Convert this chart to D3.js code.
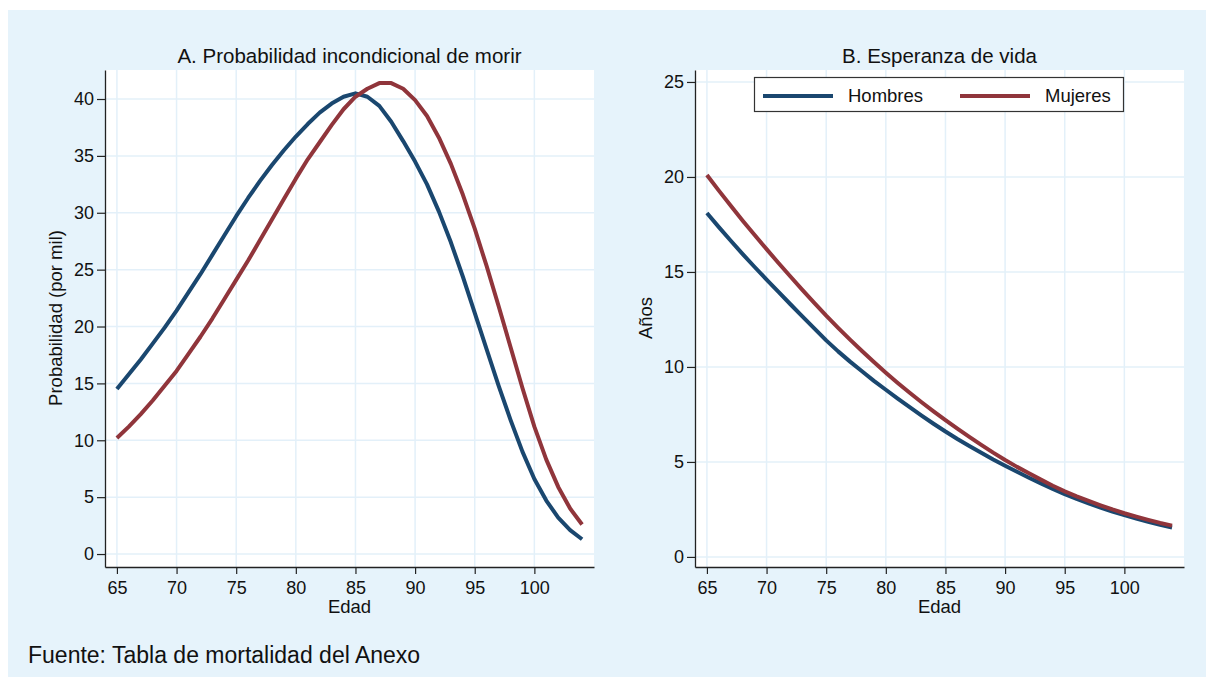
<!DOCTYPE html>
<html>
<head>
<meta charset="utf-8">
<script src="https://cdn.jsdelivr.net/npm/d3@7"></script>
<style>
  body { margin: 0; background: #ffffff; }
  svg text { font-family: "Liberation Sans", Arial, Helvetica, sans-serif; fill: #111; }
</style>
</head>
<body>
<div id="content"></div>
<script>
// ******* DATA *******
const ages = d3.range(65, 105); // 65..104

// A. probabilidad incondicional de morir (por mil)
const probHombres = [14.5, 15.8, 17.1, 18.5, 19.9, 21.4, 23.0, 24.6, 26.3, 28.0,
    29.7, 31.3, 32.8, 34.2, 35.5, 36.7, 37.8, 38.8, 39.6, 40.2,
    40.5, 40.2, 39.4, 38.0, 36.3, 34.5, 32.5, 30.1, 27.4, 24.4,
    21.2, 18.0, 14.8, 11.8, 9.0, 6.6, 4.7, 3.2, 2.1, 1.3];
const probMujeres = [10.2, 11.2, 12.3, 13.5, 14.8, 16.1, 17.6, 19.1, 20.7, 22.4,
    24.1, 25.8, 27.6, 29.4, 31.2, 33.0, 34.7, 36.2, 37.7, 39.1,
    40.2, 40.9, 41.4, 41.4, 40.9, 39.9, 38.5, 36.6, 34.3, 31.6,
    28.6, 25.3, 21.8, 18.2, 14.6, 11.2, 8.3, 5.9, 4.0, 2.6];

// B. esperanza de vida (años)
const espHombres = [18.10, 17.36, 16.64, 15.94, 15.26, 14.60, 13.95, 13.30, 12.66, 12.03,
    11.40, 10.82, 10.28, 9.77, 9.27, 8.80, 8.33, 7.88, 7.44, 7.01,
    6.60, 6.21, 5.84, 5.48, 5.13, 4.80, 4.48, 4.17, 3.87, 3.58,
    3.30, 3.05, 2.82, 2.60, 2.39, 2.20, 2.02, 1.85, 1.69, 1.55];
const espMujeres = [20.10, 19.28, 18.48, 17.70, 16.94, 16.20, 15.47, 14.76, 14.06, 13.37,
    12.70, 12.06, 11.44, 10.84, 10.26, 9.70, 9.16, 8.64, 8.14, 7.66,
    7.20, 6.75, 6.32, 5.90, 5.49, 5.10, 4.74, 4.40, 4.07, 3.75,
    3.45, 3.19, 2.95, 2.72, 2.50, 2.30, 2.12, 1.95, 1.79, 1.65];

const xTicks = [65, 70, 75, 80, 85, 90, 95, 100];
const yTicksA = [0, 5, 10, 15, 20, 25, 30, 35, 40];
const yTicksB = [0, 5, 10, 15, 20, 25];
const seriesNames = ["Hombres", "Mujeres"];
const colors = ["#1a476f", "#90353b"];

// ******* LAYOUT *******
const W = 1206, H = 679;
const svg = d3.select("#content").append("svg")
    .attr("width", W)
    .attr("height", H);

// light blue graph background
svg.append("rect")
    .attr("x", 8).attr("y", 10)
    .attr("width", W - 8).attr("height", 667)
    .attr("fill", "#e6f3fb");

function drawPanel(opts) {
    const g = svg.append("g");
    const x = d3.scaleLinear().domain([64, 105]).range([opts.left, opts.right]);
    const y = d3.scaleLinear().domain(opts.yDomain).range([opts.bottom, opts.top]);

    // plot region
    g.append("rect")
        .attr("x", opts.left).attr("y", opts.top)
        .attr("width", opts.right - opts.left)
        .attr("height", opts.bottom - opts.top)
        .attr("fill", "#ffffff");

    // grid
    g.append("g").selectAll("line").data(xTicks).join("line")
        .attr("x1", d => x(d)).attr("x2", d => x(d))
        .attr("y1", opts.top).attr("y2", opts.bottom)
        .attr("stroke", "#e3f0f9").attr("stroke-width", 1.5);
    g.append("g").selectAll("line").data(opts.yTicks).join("line")
        .attr("x1", opts.left).attr("x2", opts.right)
        .attr("y1", d => y(d)).attr("y2", d => y(d))
        .attr("stroke", "#e3f0f9").attr("stroke-width", 1.5);

    // lines
    const line = d3.line().x((d, i) => x(ages[i])).y(d => y(d));
    opts.series.forEach((s, k) => {
        g.append("path")
            .datum(s)
            .attr("d", line)
            .attr("fill", "none")
            .attr("stroke", colors[k])
            .attr("stroke-width", 4)
            .attr("stroke-linejoin", "round");
    });

    // axes
    const xAxis = g.append("g")
        .attr("transform", `translate(0,${opts.bottom})`)
        .call(d3.axisBottom(x).tickValues(xTicks).tickSize(7).tickSizeOuter(0).tickPadding(7));
    const yAxis = g.append("g")
        .attr("transform", `translate(${opts.left},0)`)
        .call(d3.axisLeft(y).tickValues(opts.yTicks).tickSize(8).tickSizeOuter(0).tickPadding(3));
    [xAxis, yAxis].forEach(a => {
        a.selectAll("path").attr("stroke", "#222").attr("stroke-width", 1.3);
        a.selectAll("line").attr("stroke", "#222").attr("stroke-width", 1.2);
        a.selectAll("text").style("font-size", "18px").attr("fill", "#111")
            .style("font-family", "'Liberation Sans', Arial, sans-serif");
    });

    // titles
    const cx = (opts.left + opts.right) / 2;
    g.append("text")
        .attr("x", cx).attr("y", 63)
        .attr("text-anchor", "middle")
        .style("font-size", "20.5px")
        .text(opts.title);
    g.append("text")
        .attr("x", cx).attr("y", 613)
        .attr("text-anchor", "middle")
        .style("font-size", "18.5px")
        .text("Edad");
    g.append("text")
        .attr("transform", `translate(${opts.ylabelX},318) rotate(-90)`)
        .attr("text-anchor", "middle")
        .style("font-size", "18.5px")
        .text(opts.ylabel);
    return { x, y, g };
}

drawPanel({
    left: 105, right: 594, top: 70, bottom: 567,
    yDomain: [-1.14, 42.55], yTicks: yTicksA,
    series: [probHombres, probMujeres],
    title: "A. Probabilidad incondicional de morir",
    ylabel: "Probabilidad (por mil)", ylabelX: 62
});

const panelB = drawPanel({
    left: 695, right: 1184, top: 70, bottom: 567,
    yDomain: [-0.53, 25.63], yTicks: yTicksB,
    series: [espHombres, espMujeres],
    title: "B. Esperanza de vida",
    ylabel: "Años", ylabelX: 652
});

// legend
const legend = panelB.g.append("g");
legend.append("rect")
    .attr("x", 754.5).attr("y", 77.5)
    .attr("width", 369).attr("height", 34)
    .attr("fill", "#ffffff")
    .attr("stroke", "#333").attr("stroke-width", 1.2);
const legendX = [763, 960];
seriesNames.forEach((name, k) => {
    legend.append("line")
        .attr("x1", legendX[k]).attr("x2", legendX[k] + 70)
        .attr("y1", 96).attr("y2", 96)
        .attr("stroke", colors[k]).attr("stroke-width", 4);
    legend.append("text")
        .attr("x", legendX[k] + 85).attr("y", 102)
        .style("font-size", "18.5px")
        .text(name);
});

// footer note
svg.append("text")
    .attr("x", 28).attr("y", 663)
    .style("font-size", "23px")
    .text("Fuente: Tabla de mortalidad del Anexo");
</script>
</body>
</html>
